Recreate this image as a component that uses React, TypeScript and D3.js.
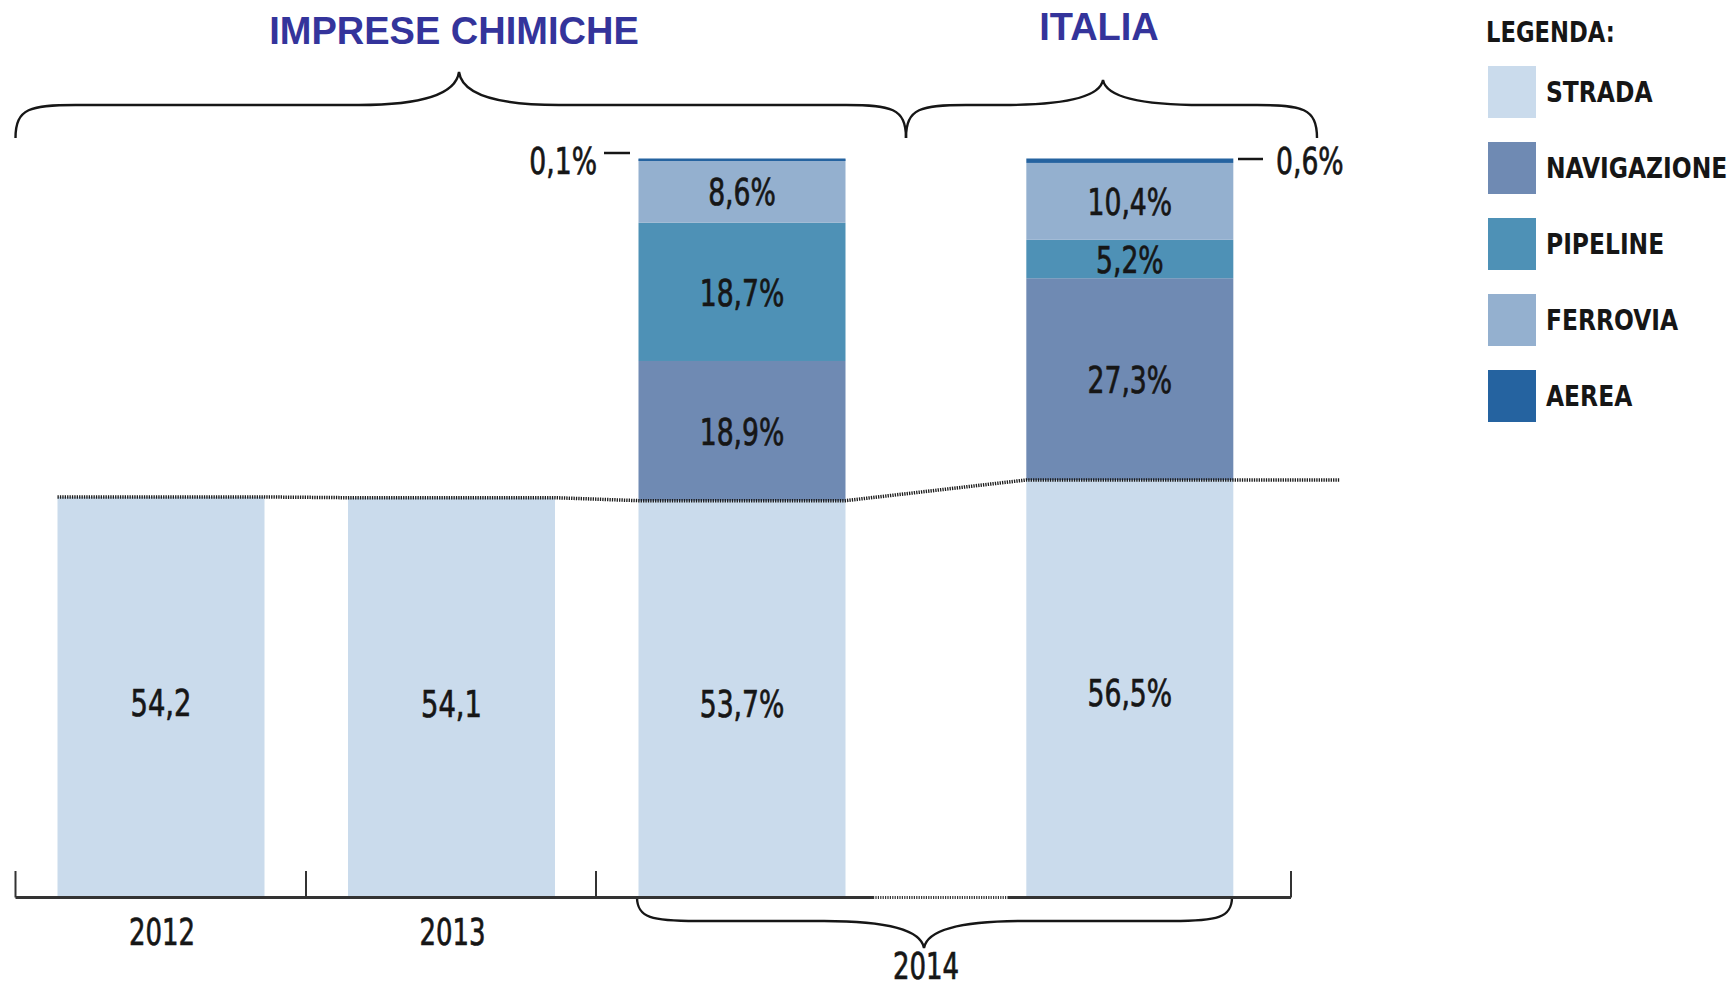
import React from "react";
import * as d3 from "d3";

// ---------- DATA ----------
const years = ["2012", "2013"];
const yearStrada = [54.2, 54.1];
const modes = ["STRADA", "NAVIGAZIONE", "PIPELINE", "FERROVIA", "AEREA"];
const chemical2014 = [53.7, 18.9, 18.7, 8.6, 0.1];
const italia2014 = [56.5, 27.3, 5.2, 10.4, 0.6];
const groupTitles = ["IMPRESE CHIMICHE", "ITALIA"];
const yearLabel2014 = "2014";
const legendTitle = "LEGENDA:";

// ---------- STYLE / LAYOUT ----------
const W = 1733;
const H = 991;
const colors = ["#cadbec", "#6f8ab3", "#4e91b6", "#94b0cf", "#2563a0"];
const titleColor = "#34349b";
const ink = "#161616";
const cond = "'DejaVu Sans Condensed', 'DejaVu Sans', sans-serif";
const slotPos = [0, 1, 2, 3.335]; // slot index per bar (2012, 2013, 2014 IC, 2014 Italia)
const barW = 207;

const y = d3.scaleLinear().domain([0, 100]).range([897.5, 158.5]);
const xs = d3.scaleLinear().domain([0, 1]).range([57.5, 348]);
const fmt = (v: number) => d3.format(".1f")(v).replace(".", ",");

type TProps = {
  x: number;
  y: number;
  sx?: number;
  anchor?: "start" | "middle" | "end";
  size?: number;
  bold?: boolean;
  children: React.ReactNode;
};
function T({ x, y, sx = 0.8, anchor = "middle", size = 36, bold = false, children }: TProps) {
  return (
    <text
      transform={`translate(${x},${y}) scale(${sx},1)`}
      textAnchor={anchor}
      dominantBaseline="central"
      fontFamily={cond}
      fontWeight={bold ? "bold" : "normal"}
      fontSize={size}
      fill={ink}
      stroke={bold ? "none" : ink}
      strokeWidth={bold ? 0 : 0.7}
    >
      {children}
    </text>
  );
}

function hBrace(x1: number, x2: number, xTip: number, yEnd: number, yLine: number, yTip: number) {
  const dir = yTip < yLine ? -1 : 1;
  const a = 60;
  const b = 100;
  const p = d3.path();
  p.moveTo(x1, yEnd);
  p.bezierCurveTo(x1, yLine - dir * 3, x1 + a * 0.25, yLine, x1 + a, yLine);
  p.lineTo(xTip - b, yLine);
  p.bezierCurveTo(xTip - b * 0.35, yLine, xTip - 3, yLine + (yTip - yLine) * 0.35, xTip, yTip);
  p.bezierCurveTo(xTip + 3, yLine + (yTip - yLine) * 0.35, xTip + b * 0.35, yLine, xTip + b, yLine);
  p.lineTo(x2 - a, yLine);
  p.bezierCurveTo(x2 - a * 0.25, yLine, x2, yLine - dir * 3, x2, yEnd);
  return p.toString();
}

function stack(values: number[]) {
  let acc = 0;
  return values.map((v, i) => {
    const y0 = acc;
    acc += v;
    return { key: modes[i], v, y0, y1: acc, color: colors[i] };
  });
}

export default function App() {
  const icStack = stack(chemical2014);
  const itStack = stack(italia2014);
  const xIC = xs(slotPos[2]);
  const xIT = xs(slotPos[3]);

  const segs = (st: ReturnType<typeof stack>, x0: number) =>
    st.map((s, i) => {
      const top = y(s.y1);
      const h = Math.max(y(s.y0) - y(s.y1), i === 4 ? 2.5 : 0);
      return <rect key={s.key} x={x0} y={top} width={barW} height={h} fill={s.color} />;
    });

  const segLabels = (st: ReturnType<typeof stack>, x0: number) =>
    st.slice(0, 4).map((s) => (
      <T key={s.key} x={x0 + barW / 2} y={y((s.y0 + s.y1) / 2) + (s.key === "STRADA" ? 5 : 1)} size={37}>
        {fmt(s.v) + "%"}
      </T>
    ));

  const dotPts: [number, number][] = [
    [xs(slotPos[0]), y(yearStrada[0])],
    [xs(slotPos[0]) + barW, y(yearStrada[0])],
    [xs(slotPos[1]), y(yearStrada[1])],
    [xs(slotPos[1]) + barW, y(yearStrada[1])],
    [xIC, y(chemical2014[0])],
    [xIC + barW, y(chemical2014[0])],
    [xIT, y(italia2014[0])],
    [1340, y(italia2014[0])],
  ];
  const dotLine = d3.line()(dotPts) as string;

  const baseY = y(0);
  const ticks = [15.5, 306, 596, 1291];

  return (
    <svg width={W} height={H} style={{ position: "absolute", left: 0, top: 0, background: "#fff" }}>
      {/* titles */}
      <text x={454} y={43.5} textAnchor="middle" fontFamily="'Liberation Sans', Arial, sans-serif" fontWeight="bold" fontSize={38} fill={titleColor}>
        {groupTitles[0]}
      </text>
      <text x={1099} y={40} textAnchor="middle" fontFamily="'Liberation Sans', Arial, sans-serif" fontWeight="bold" fontSize={38} fill={titleColor}>
        {groupTitles[1]}
      </text>

      {/* braces */}
      <g fill="none" stroke={ink} strokeWidth={2.4}>
        <path d={hBrace(15.5, 906, 459, 138, 105, 72)} />
        <path d={hBrace(906, 1317, 1103, 138, 105, 80)} />
        <path d={hBrace(637, 1232, 924, 897, 921, 948)} />
      </g>

      {/* 2012, 2013 bars */}
      {years.map((yr, i) => (
        <g key={yr}>
          <rect x={xs(slotPos[i])} y={y(yearStrada[i])} width={barW} height={baseY - y(yearStrada[i])} fill={colors[0]} />
          <T x={xs(slotPos[i]) + barW / 2} y={y(yearStrada[i] / 2) + 6} size={38} sx={0.8}>
            {fmt(yearStrada[i])}
          </T>
          <T x={xs(slotPos[i]) + barW / 2 + 1} y={932} size={38} sx={0.76}>
            {yr}
          </T>
        </g>
      ))}

      {/* 2014 stacked bars */}
      {segs(icStack, xIC)}
      {segs(itStack, xIT)}
      {segLabels(icStack, xIC)}
      {segLabels(itStack, xIT)}

      {/* aerea callouts */}
      <line x1={604} x2={630} y1={153} y2={153} stroke={ink} strokeWidth={2.5} />
      <T x={597} y={161} anchor="end" size={37}>
        {fmt(chemical2014[4]) + "%"}
      </T>
      <line x1={1238} x2={1263} y1={159} y2={159} stroke={ink} strokeWidth={2.5} />
      <T x={1276} y={161} anchor="start" size={37}>
        {fmt(italia2014[4]) + "%"}
      </T>

      {/* dotted connector */}
      <path d={dotLine} fill="none" stroke="#1a1a1a" strokeWidth={3.5} strokeDasharray="1.3,1.1" />

      {/* baseline + ticks */}
      <line x1={15.5} x2={873} y1={baseY} y2={baseY} stroke="#333" strokeWidth={3} />
      <line x1={873} x2={1008} y1={baseY} y2={baseY} stroke="#333" strokeWidth={3} strokeDasharray="1.2,1.2" />
      <line x1={1008} x2={1291} y1={baseY} y2={baseY} stroke="#333" strokeWidth={3} />
      {ticks.map((t) => (
        <line key={t} x1={t} x2={t} y1={871} y2={baseY} stroke="#333" strokeWidth={2} />
      ))}
      <T x={926} y={966} size={37} sx={0.78}>
        {yearLabel2014}
      </T>

      {/* legend */}
      <T x={1486} y={32} anchor="start" bold size={28} sx={0.9}>
        {legendTitle}
      </T>
      {modes.map((m, i) => (
        <g key={m}>
          <rect x={1488} y={66 + i * 76} width={48} height={52} fill={colors[i]} />
          <T x={1546} y={92 + i * 76} anchor="start" bold size={28} sx={0.93}>
            {m}
          </T>
        </g>
      ))}
    </svg>
  );
}
